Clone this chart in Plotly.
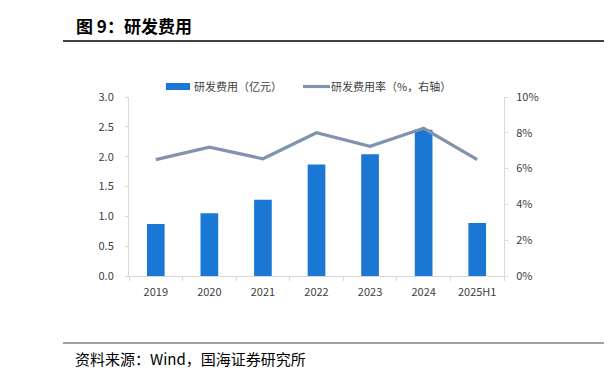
import plotly.graph_objects as go

categories = ["2019", "2020", "2021", "2022", "2023", "2024", "2025H1"]
rd_expense = [0.87, 1.05, 1.28, 1.87, 2.04, 2.45, 0.89]
rd_ratio = [6.5, 7.2, 6.55, 8.0, 7.25, 8.25, 6.5]
left_ticks = [0.0, 0.5, 1.0, 1.5, 2.0, 2.5, 3.0]
right_ticks = [0, 2, 4, 6, 8, 10]
bar_name = "研发费用（亿元）"
line_name = "研发费用率（%，右轴）"

FONT = "Noto Sans CJK SC"
BAR_COLOR = "#1A78D4"
LINE_COLOR = "#8094AE"
AXIS_COLOR = "#D9D9D9"
TEXT_COLOR = "#404040"

# page body has an 8px margin; plot area in screen pixels: x 129-504, y 97-276
OFF = 8
W, H = 612 - OFF, 382 - OFF
PL, PR, PT, PB = 129, 504, 97, 276


def px(x):
    return (x - PL) / (PR - PL)


def py(y):
    return (PB - y) / (PB - PT)


fig = go.Figure()
fig.add_trace(go.Bar(
    x=categories, y=rd_expense, name=bar_name,
    marker=dict(color=BAR_COLOR, line=dict(width=0)), width=0.33,
))
fig.add_trace(go.Scatter(
    x=categories, y=rd_ratio, name=line_name, yaxis="y2",
    mode="lines", line=dict(color=LINE_COLOR, width=3.2),
))

fig.update_layout(
    width=W, height=H,
    margin=dict(l=PL - OFF, r=W - (PR - OFF), t=PT - OFF, b=H - (PB - OFF)),
    paper_bgcolor="white", plot_bgcolor="white",
    font=dict(family=FONT, size=11, color=TEXT_COLOR),
    showlegend=False,
    xaxis=dict(
        type="category", showline=True, linecolor=AXIS_COLOR, linewidth=1,
        ticks="outside", tickcolor=AXIS_COLOR, ticklen=4,
        tickson="boundaries", showgrid=False, tickfont=dict(size=11, color=TEXT_COLOR),
        range=[-0.5, 6.5], ticklabelstandoff=6,
    ),
    yaxis=dict(
        range=[0, 3.0], tickvals=left_ticks, ticktext=[f"{v:.1f}" for v in left_ticks],
        showline=True, linecolor=AXIS_COLOR, linewidth=1, ticks="outside",
        tickcolor=AXIS_COLOR, ticklen=3, showgrid=False, zeroline=False,
        tickfont=dict(size=11, color=TEXT_COLOR), ticklabelstandoff=9,
    ),
    yaxis2=dict(
        range=[0, 10], tickvals=right_ticks, ticktext=[f"{v}%" for v in right_ticks],
        overlaying="y", side="right", showline=True, linecolor=AXIS_COLOR, linewidth=1,
        ticks="outside", tickcolor=AXIS_COLOR, ticklen=3, showgrid=False, zeroline=False,
        tickfont=dict(size=11, color=TEXT_COLOR), ticklabelstandoff=6,
    ),
)

# manual legend
fig.add_shape(type="rect", xref="paper", yref="paper",
              x0=px(166), x1=px(190), y0=py(90), y1=py(83),
              fillcolor=BAR_COLOR, line=dict(width=0))
fig.add_annotation(xref="paper", yref="paper", x=px(192), y=py(86.5),
                   xanchor="left", yanchor="middle", showarrow=False,
                   text=bar_name, font=dict(family=FONT, size=11, color=TEXT_COLOR))
fig.add_shape(type="line", xref="paper", yref="paper",
              x0=px(303), x1=px(330), y0=py(86.5), y1=py(86.5),
              line=dict(color=LINE_COLOR, width=3.2))
fig.add_annotation(xref="paper", yref="paper", x=px(329), y=py(86.5),
                   xanchor="left", yanchor="middle", showarrow=False,
                   text=line_name, font=dict(family=FONT, size=11, color=TEXT_COLOR))

# header and footer
fig.add_shape(type="line", xref="paper", yref="paper",
              x0=px(63), x1=px(620), y0=py(41), y1=py(41),
              line=dict(color="#000000", width=1.5))
fig.add_shape(type="line", xref="paper", yref="paper",
              x0=px(63), x1=px(620), y0=py(343), y1=py(343),
              line=dict(color="#808080", width=1.5))
fig.add_annotation(xref="paper", yref="paper", x=px(74), y=py(25),
                   xanchor="left", yanchor="middle", showarrow=False,
                   text="<b>图 9：研发费用</b>",
                   font=dict(family=FONT, size=17, color="#000000"))
fig.add_annotation(xref="paper", yref="paper", x=px(73), y=py(358),
                   xanchor="left", yanchor="middle", showarrow=False,
                   text="资料来源：Wind，国海证券研究所",
                   font=dict(family=FONT, size=15, color="#000000"))

fig.write_html("out.html")
